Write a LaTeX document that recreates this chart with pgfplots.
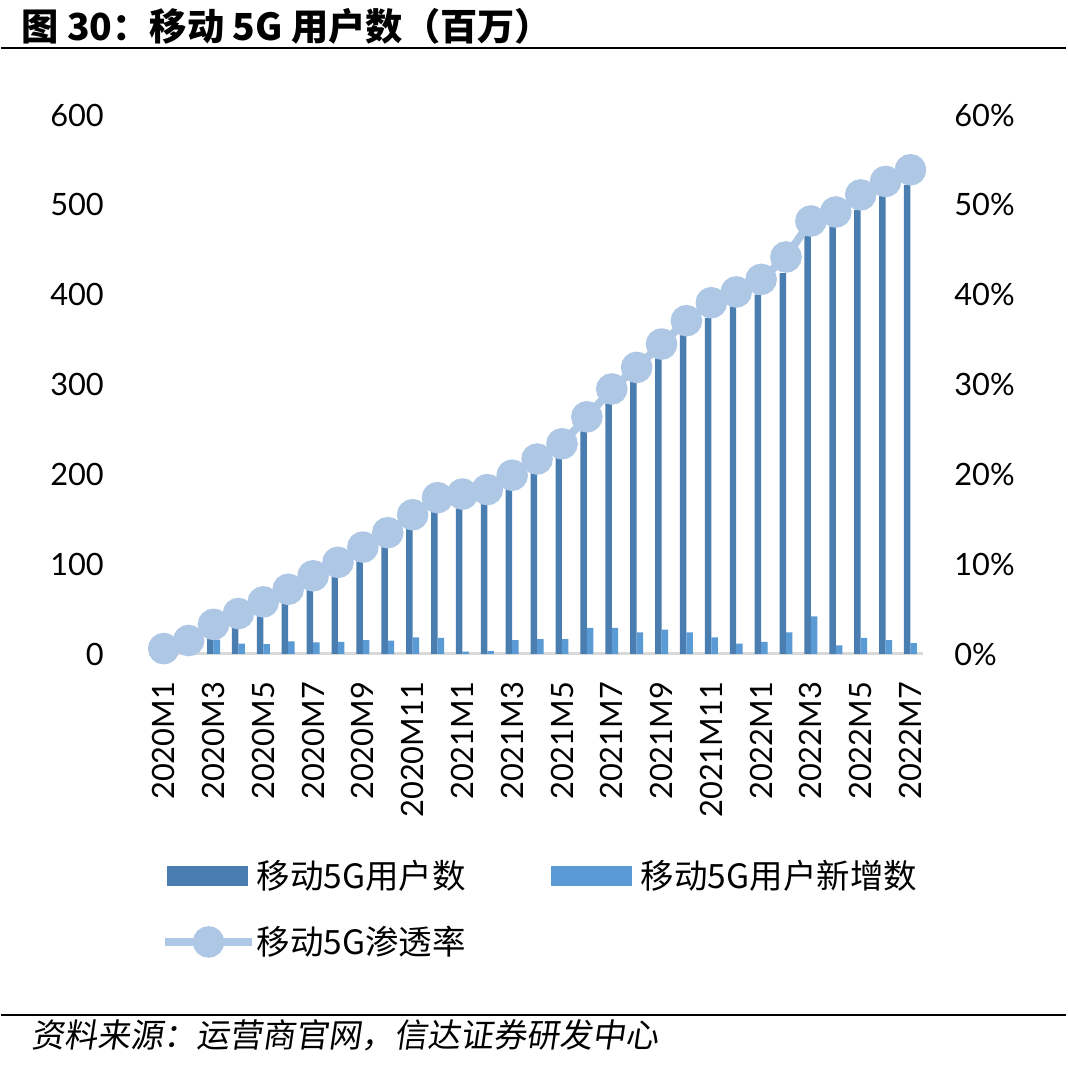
\documentclass[border=0pt]{standalone}
\usepackage{fontspec}
\usepackage{pgfplots}
\usepackage{pgfplotstable}
\pgfplotsset{compat=1.18}
\setmainfont{Lato}
\newfontfamily\cjk{Noto Sans CJK SC}
\newfontfamily\cjkkai[FakeSlant=0.15]{Noto Sans CJK SC}

\definecolor{userdark}{HTML}{4A7EB1}
\definecolor{usernew}{HTML}{5B9BD5}
\definecolor{rateline}{HTML}{AEC7E5}
\definecolor{baseaxis}{HTML}{D9D9D9}

% China Mobile 5G subscribers (millions), monthly net adds (millions), penetration (%)
\pgfplotstableread{
i  dark  new   pen
0  6     0     0.6
1  15.4  9     1.5
2  31.7  16    3.3
3  43    11.5  4.5
4  55    11    5.8
5  70    14    7.2
6  83    13    8.7
7  97    13.5  10.2
8  113   15.5  11.9
9  128   15    13.5
10 147   18.5  15.5
11 165   18    17.4
12 168   2.5   17.8
13 173   3.3   18.3
14 189   15.5  19.9
15 206   16.5  21.7
16 222   16.5  23.4
17 251   29    26.4
18 280   29    29.5
19 303   24    31.9
20 331   27    34.5
21 355   24    37.1
22 374   18.5  39.1
23 387   11.5  40.3
24 400   13.5  41.7
25 424   24    44.2
26 467   42    48.2
27 476   9.5   49.2
28 494   18    51.1
29 511   15.5  52.6
30 522   12    53.9
}\datatable

\begin{document}
\begin{tikzpicture}
% canvas and frame lines
\fill[white] (0,0) rectangle (426pt,428.4pt);
\draw[black, line width=0.8pt] (0,409.2pt) -- (426pt,409.2pt);
\draw[black, line width=0.8pt] (0,22.4pt) -- (426pt,22.4pt);
\node[anchor=west, inner sep=0pt, font=\cjk\bfseries\fontsize{14.9}{17}\selectfont]
  at (8pt,418pt) {图 30：移动 5G 用户数（百万）};
\node[anchor=west, inner sep=0pt, font=\cjkkai\fontsize{13.2}{15}\selectfont]
  at (12pt,14.2pt) {资料来源：运营商官网，信达证券研发中心};

\pgfplotsset{
  every tick label/.append style={font=\fontsize{12.3}{14}\selectfont, inner sep=0pt},
  /pgf/number format/assume math mode=true,
}

% subscribers and net adds (left axis)
\begin{axis}[
  at={(60.12pt,166.8pt)}, anchor=south west,
  scale only axis, width=308.64pt, height=215.6pt,
  xmin=-0.5, xmax=30.5, ymin=0, ymax=600,
  ytick={0,100,...,600},
  xtick={0,2,...,30},
  xticklabels={2020M1,2020M3,2020M5,2020M7,2020M9,2020M11,2021M1,2021M3,2021M5,2021M7,2021M9,2021M11,2022M1,2022M3,2022M5,2022M7},
  xticklabel style={rotate=90, anchor=east, xshift=-11pt},
  yticklabel style={anchor=east, xshift=-18.8pt},
  axis x line*=bottom, axis y line*=left,
  x axis line style={draw=baseaxis, line width=1.2pt, -},
  y axis line style={draw=none},
  major tick length=0pt, tick style={draw=none},
  clip=false,
]
\addplot[ybar, bar width=0.26, bar shift=-0.13, fill=userdark, draw=none]
  table[x=i, y=dark] {\datatable};
\addplot[ybar, bar width=0.26, bar shift=0.13, fill=usernew, draw=none]
  table[x=i, y=new] {\datatable};
\end{axis}

% penetration rate (right axis) with the legend
\begin{axis}[
  at={(60.12pt,166.8pt)}, anchor=south west,
  scale only axis, width=308.64pt, height=215.6pt,
  xmin=-0.5, xmax=30.5, ymin=0, ymax=60,
  ytick={0,10,...,60},
  yticklabel={\pgfmathprintnumber{\tick}\%},
  yticklabel style={anchor=west, xshift=12.4pt},
  axis x line=none, axis y line*=right,
  y axis line style={draw=none},
  major tick length=0pt, tick style={draw=none},
  clip=false,
  legend columns=2,
  legend style={
    at={(0.011,-0.381)}, anchor=north west,
    draw=none, fill=none, inner sep=0pt,
    font=\cjk\fontsize{13.4}{15}\selectfont,
    row sep=13.6pt,
    /tikz/every even column/.append style={column sep=31.4pt},
    nodes={inner sep=0pt, anchor=west},
  },
  legend cell align=left,
]
\addlegendimage{legend image code/.code={\path (-1.6pt,0pt) (36.6pt,0pt); \fill[userdark] (1.2pt,-3.8pt) rectangle (33.2pt,3.8pt);}}
\addlegendentry{移动5G用户数}
\addlegendimage{legend image code/.code={\path (-1.6pt,0pt) (36.6pt,0pt); \fill[usernew] (1.2pt,-3.8pt) rectangle (33.2pt,3.8pt);}}
\addlegendentry{移动5G用户新增数}
\addplot[rateline, line width=3.2pt, mark=*, mark size=4.7pt,
  mark options={fill=rateline, draw=none},
  legend image code/.code={
    \draw[rateline, line width=3.2pt] (0pt,0pt) -- (35pt,0pt);
    \fill[rateline] (17.5pt,0pt) circle (4.7pt);}]
  table[x=i, y=pen] {\datatable};
\addlegendentry{移动5G渗透率}
\end{axis}
\end{tikzpicture}
\end{document}
